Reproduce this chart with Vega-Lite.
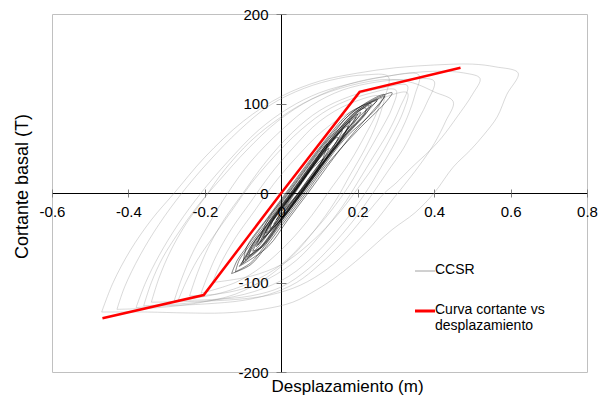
{
  "$schema": "https://vega.github.io/schema/vega-lite/v6.json",
  "width": 535,
  "height": 358,
  "autosize": {"type": "none"},
  "padding": {"left": 52, "top": 14, "right": 12, "bottom": 32},
  "config": {
    "view": {"stroke": "#c0c0c0", "strokeWidth": 1},
    "font": "Liberation Sans",
    "axis": {"grid": false}
  },
  "resolve": {"axis": {"x": "independent", "y": "independent"}},
  "layer": [
    {
      "data": {"values": [
        {"k":"L1","x":-0.47,"y":-133},{"k":"L1","x":-0.44,"y":-100},{"k":"L1","x":-0.395,"y":-64},{"k":"L1","x":-0.34,"y":-30},{"k":"L1","x":-0.28,"y":0},{"k":"L1","x":-0.2,"y":40},{"k":"L1","x":-0.1,"y":80},{"k":"L1","x":0,"y":108},{"k":"L1","x":0.1,"y":125},{"k":"L1","x":0.2,"y":134},{"k":"L1","x":0.3,"y":140},{"k":"L1","x":0.4,"y":143},{"k":"L1","x":0.5,"y":144},{"k":"L1","x":0.56,"y":141},{"k":"L1","x":0.62,"y":134},{"k":"L1","x":0.59,"y":110},{"k":"L1","x":0.565,"y":85},{"k":"L1","x":0.53,"y":65},{"k":"L1","x":0.495,"y":48},{"k":"L1","x":0.45,"y":29},{"k":"L1","x":0.4,"y":0},{"k":"L1","x":0.35,"y":-22},{"k":"L1","x":0.29,"y":-41},{"k":"L1","x":0.21,"y":-71},{"k":"L1","x":0.146,"y":-93},{"k":"L1","x":0.093,"y":-108},{"k":"L1","x":0.03,"y":-122},{"k":"L1","x":-0.05,"y":-130},{"k":"L1","x":-0.15,"y":-134},{"k":"L1","x":-0.25,"y":-134},{"k":"L1","x":-0.35,"y":-133},{"k":"L1","x":-0.47,"y":-133},
        {"k":"L2","x":-0.38,"y":-128},{"k":"L2","x":-0.355,"y":-100},{"k":"L2","x":-0.32,"y":-70},{"k":"L2","x":-0.27,"y":-35},{"k":"L2","x":-0.21,"y":0},{"k":"L2","x":-0.14,"y":35},{"k":"L2","x":-0.06,"y":70},{"k":"L2","x":0.02,"y":95},{"k":"L2","x":0.1,"y":112},{"k":"L2","x":0.2,"y":124},{"k":"L2","x":0.3,"y":132},{"k":"L2","x":0.4,"y":136},{"k":"L2","x":0.48,"y":134},{"k":"L2","x":0.52,"y":128},{"k":"L2","x":0.5,"y":110},{"k":"L2","x":0.46,"y":85},{"k":"L2","x":0.42,"y":62},{"k":"L2","x":0.39,"y":48},{"k":"L2","x":0.34,"y":28},{"k":"L2","x":0.3,"y":11},{"k":"L2","x":0.27,"y":0},{"k":"L2","x":0.22,"y":-25},{"k":"L2","x":0.16,"y":-55},{"k":"L2","x":0.1,"y":-80},{"k":"L2","x":0.04,"y":-100},{"k":"L2","x":-0.03,"y":-113},{"k":"L2","x":-0.1,"y":-120},{"k":"L2","x":-0.2,"y":-124},{"k":"L2","x":-0.3,"y":-126},{"k":"L2","x":-0.38,"y":-128},
        {"k":"L3","x":-0.34,"y":-122},{"k":"L3","x":-0.32,"y":-95},{"k":"L3","x":-0.29,"y":-65},{"k":"L3","x":-0.25,"y":-35},{"k":"L3","x":-0.2,"y":-5},{"k":"L3","x":-0.15,"y":25},{"k":"L3","x":-0.08,"y":58},{"k":"L3","x":0,"y":85},{"k":"L3","x":0.08,"y":105},{"k":"L3","x":0.18,"y":120},{"k":"L3","x":0.28,"y":127},{"k":"L3","x":0.345,"y":123},{"k":"L3","x":0.4,"y":113},{"k":"L3","x":0.45,"y":102},{"k":"L3","x":0.43,"y":80},{"k":"L3","x":0.4,"y":55},{"k":"L3","x":0.36,"y":30},{"k":"L3","x":0.32,"y":8},{"k":"L3","x":0.29,"y":-8},{"k":"L3","x":0.24,"y":-35},{"k":"L3","x":0.18,"y":-62},{"k":"L3","x":0.12,"y":-85},{"k":"L3","x":0.05,"y":-103},{"k":"L3","x":-0.03,"y":-114},{"k":"L3","x":-0.12,"y":-119},{"k":"L3","x":-0.22,"y":-121},{"k":"L3","x":-0.34,"y":-122},
        {"k":"L4","x":-0.28,"y":-120},{"k":"L4","x":-0.26,"y":-95},{"k":"L4","x":-0.23,"y":-65},{"k":"L4","x":-0.19,"y":-35},{"k":"L4","x":-0.14,"y":0},{"k":"L4","x":-0.08,"y":35},{"k":"L4","x":0,"y":70},{"k":"L4","x":0.08,"y":98},{"k":"L4","x":0.16,"y":115},{"k":"L4","x":0.25,"y":124},{"k":"L4","x":0.33,"y":127},{"k":"L4","x":0.4,"y":125},{"k":"L4","x":0.38,"y":100},{"k":"L4","x":0.35,"y":75},{"k":"L4","x":0.32,"y":50},{"k":"L4","x":0.28,"y":25},{"k":"L4","x":0.24,"y":0},{"k":"L4","x":0.19,"y":-30},{"k":"L4","x":0.13,"y":-60},{"k":"L4","x":0.07,"y":-85},{"k":"L4","x":0,"y":-105},{"k":"L4","x":-0.08,"y":-115},{"k":"L4","x":-0.18,"y":-119},{"k":"L4","x":-0.28,"y":-120},
        {"k":"L5","x":-0.24,"y":-115},{"k":"L5","x":-0.22,"y":-90},{"k":"L5","x":-0.19,"y":-60},{"k":"L5","x":-0.15,"y":-30},{"k":"L5","x":-0.1,"y":0},{"k":"L5","x":-0.04,"y":35},{"k":"L5","x":0.03,"y":68},{"k":"L5","x":0.1,"y":92},{"k":"L5","x":0.18,"y":108},{"k":"L5","x":0.26,"y":117},{"k":"L5","x":0.33,"y":120},{"k":"L5","x":0.31,"y":95},{"k":"L5","x":0.28,"y":68},{"k":"L5","x":0.24,"y":40},{"k":"L5","x":0.2,"y":12},{"k":"L5","x":0.16,"y":-15},{"k":"L5","x":0.1,"y":-48},{"k":"L5","x":0.04,"y":-75},{"k":"L5","x":-0.03,"y":-95},{"k":"L5","x":-0.1,"y":-107},{"k":"L5","x":-0.17,"y":-113},{"k":"L5","x":-0.24,"y":-115},
        {"k":"L6","x":-0.43,"y":-130},{"k":"L6","x":-0.41,"y":-105},{"k":"L6","x":-0.37,"y":-70},{"k":"L6","x":-0.32,"y":-35},{"k":"L6","x":-0.26,"y":0},{"k":"L6","x":-0.19,"y":35},{"k":"L6","x":-0.11,"y":70},{"k":"L6","x":-0.03,"y":98},{"k":"L6","x":0.06,"y":117},{"k":"L6","x":0.15,"y":128},{"k":"L6","x":0.22,"y":132},{"k":"L6","x":0.28,"y":130},{"k":"L6","x":0.27,"y":105},{"k":"L6","x":0.25,"y":78},{"k":"L6","x":0.22,"y":50},{"k":"L6","x":0.18,"y":20},{"k":"L6","x":0.14,"y":-10},{"k":"L6","x":0.09,"y":-40},{"k":"L6","x":0.03,"y":-70},{"k":"L6","x":-0.04,"y":-95},{"k":"L6","x":-0.12,"y":-113},{"k":"L6","x":-0.22,"y":-123},{"k":"L6","x":-0.32,"y":-128},{"k":"L6","x":-0.43,"y":-130},
        {"k":"M1","x":-0.27,"y":-120},{"k":"M1","x":-0.25,"y":-100},{"k":"M1","x":-0.22,"y":-75},{"k":"M1","x":-0.18,"y":-50},{"k":"M1","x":-0.13,"y":-20},{"k":"M1","x":-0.08,"y":10},{"k":"M1","x":-0.02,"y":40},{"k":"M1","x":0.05,"y":70},{"k":"M1","x":0.13,"y":95},{"k":"M1","x":0.22,"y":110},{"k":"M1","x":0.3,"y":115},{"k":"M1","x":0.29,"y":95},{"k":"M1","x":0.26,"y":70},{"k":"M1","x":0.22,"y":40},{"k":"M1","x":0.18,"y":10},{"k":"M1","x":0.13,"y":-20},{"k":"M1","x":0.07,"y":-50},{"k":"M1","x":0,"y":-80},{"k":"M1","x":-0.08,"y":-100},{"k":"M1","x":-0.17,"y":-113},{"k":"M1","x":-0.27,"y":-120},
        {"k":"M2","x":-0.21,"y":-112},{"k":"M2","x":-0.195,"y":-95},{"k":"M2","x":-0.17,"y":-70},{"k":"M2","x":-0.13,"y":-40},{"k":"M2","x":-0.08,"y":-10},{"k":"M2","x":-0.03,"y":20},{"k":"M2","x":0.03,"y":50},{"k":"M2","x":0.1,"y":80},{"k":"M2","x":0.18,"y":100},{"k":"M2","x":0.26,"y":108},{"k":"M2","x":0.25,"y":90},{"k":"M2","x":0.22,"y":65},{"k":"M2","x":0.18,"y":35},{"k":"M2","x":0.13,"y":5},{"k":"M2","x":0.08,"y":-25},{"k":"M2","x":0.02,"y":-55},{"k":"M2","x":-0.05,"y":-82},{"k":"M2","x":-0.12,"y":-100},{"k":"M2","x":-0.21,"y":-112},
        {"k":"M3","x":-0.18,"y":-100},{"k":"M3","x":-0.16,"y":-80},{"k":"M3","x":-0.12,"y":-50},{"k":"M3","x":-0.07,"y":-20},{"k":"M3","x":-0.02,"y":10},{"k":"M3","x":0.04,"y":40},{"k":"M3","x":0.11,"y":70},{"k":"M3","x":0.19,"y":93},{"k":"M3","x":0.27,"y":107},{"k":"M3","x":0.33,"y":112},{"k":"M3","x":0.32,"y":92},{"k":"M3","x":0.29,"y":65},{"k":"M3","x":0.25,"y":35},{"k":"M3","x":0.2,"y":5},{"k":"M3","x":0.14,"y":-28},{"k":"M3","x":0.07,"y":-58},{"k":"M3","x":0,"y":-80},{"k":"M3","x":-0.08,"y":-93},{"k":"M3","x":-0.18,"y":-100},
        {"k":"M4","x":-0.36,"y":-126},{"k":"M4","x":-0.34,"y":-100},{"k":"M4","x":-0.31,"y":-72},{"k":"M4","x":-0.27,"y":-45},{"k":"M4","x":-0.22,"y":-15},{"k":"M4","x":-0.16,"y":15},{"k":"M4","x":-0.09,"y":48},{"k":"M4","x":-0.01,"y":80},{"k":"M4","x":0.08,"y":105},{"k":"M4","x":0.18,"y":122},{"k":"M4","x":0.27,"y":130},{"k":"M4","x":0.36,"y":132},{"k":"M4","x":0.35,"y":110},{"k":"M4","x":0.33,"y":85},{"k":"M4","x":0.3,"y":58},{"k":"M4","x":0.26,"y":28},{"k":"M4","x":0.22,"y":0},{"k":"M4","x":0.16,"y":-35},{"k":"M4","x":0.09,"y":-68},{"k":"M4","x":0.02,"y":-93},{"k":"M4","x":-0.07,"y":-110},{"k":"M4","x":-0.18,"y":-120},{"k":"M4","x":-0.27,"y":-124},{"k":"M4","x":-0.36,"y":-126}
      ]},
      "mark": {"type": "line", "interpolate": "catmull-rom", "strokeWidth": 0.6, "opacity": 0.55},
      "encoding": {
        "x": {"field": "x", "type": "quantitative",
          "scale": {"domain": [-0.6, 0.8], "nice": false, "zero": false},
          "axis": {"orient": "bottom", "offset": -179, "values": [-0.6, -0.4, -0.2, 0, 0.2, 0.4, 0.6, 0.8],
            "labelExpr": "datum.value == 0 ? '0' : (datum.value < 0 ? '-' : '') + format(abs(datum.value), '.1f')",
            "domainColor": "#000000", "domainWidth": 1, "tickColor": "#808080", "tickSize": 4,
            "labelFontSize": 15, "labelColor": "#000000", "labelPadding": 7, "labelFlush": false, "labelOverlap": false,
            "title": "Desplazamiento (m)", "titleFontSize": 17, "titleFontWeight": "normal", "titleColor": "#000000",
            "titleX": 295, "titleY": 198, "titleBaseline": "alphabetic", "titleAnchor": null}},
        "y": {"field": "y", "type": "quantitative",
          "scale": {"domain": [-200, 200], "nice": false, "zero": false},
          "axis": {"orient": "left", "offset": -229, "values": [-200, -100, 0, 100, 200],
            "labelExpr": "(datum.value < 0 ? '-' : '') + abs(datum.value)",
            "domainColor": "#000000", "domainWidth": 1, "tickColor": "#808080", "tickSize": 5,
            "labelFontSize": 15, "labelColor": "#000000", "labelPadding": 8, "labelFlush": false, "labelOverlap": false,
            "title": "Cortante basal (T)", "titleFontSize": 18, "titleFontWeight": "normal", "titleColor": "#000000",
            "titleX": -254, "titleY": 172, "titleAngle": -90, "titleBaseline": "alphabetic", "titleAlign": "center"}},
        "detail": {"field": "k", "type": "nominal"},
        "order": {"value": null},
        "color": {"datum": "CCSR", "type": "nominal",
          "scale": {"domain": ["CCSR", "Curva cortante vs desplazamiento"], "range": ["#8a8a8a", "#ff0000"]},
          "legend": {"title": null, "orient": "none", "legendX": 366, "legendY": 250, "padding": 0,
            "symbolType": "stroke", "symbolSize": 400, "labelFontSize": 14, "labelColor": "#000000",
            "labelOffset": 3, "rowPadding": 26, "labelLimit": 300,
            "labelExpr": "datum.value == 'CCSR' ? 'CCSR' : ['Curva cortante vs', 'desplazamiento']",
            "encode": {
              "symbols": {"update": {
                "strokeWidth": {"signal": "datum.value == 'CCSR' ? 0.8 : 3"}}},
              "labels": {"update": {"baseline": {"value": "top"}, "dy": {"value": -8}}}
            }}}
      }
    },
    {
      "data": {"values": [
        {"k":"C1","x":-0.105,"y":-80},{"k":"C1","x":-0.08,"y":-60},{"k":"C1","x":-0.028,"y":-30},{"k":"C1","x":0.025,"y":0},{"k":"C1","x":0.076,"y":30},{"k":"C1","x":0.13,"y":60},{"k":"C1","x":0.193,"y":90},{"k":"C1","x":0.252,"y":105},{"k":"C1","x":0.223,"y":90},{"k":"C1","x":0.16,"y":60},{"k":"C1","x":0.106,"y":30},{"k":"C1","x":0.055,"y":0},{"k":"C1","x":0.002,"y":-30},{"k":"C1","x":-0.05,"y":-60},{"k":"C1","x":-0.105,"y":-80},
        {"k":"C2","x":-0.085,"y":-70},{"k":"C2","x":-0.077,"y":-60},{"k":"C2","x":-0.025,"y":-30},{"k":"C2","x":0.028,"y":0},{"k":"C2","x":0.079,"y":30},{"k":"C2","x":0.133,"y":60},{"k":"C2","x":0.196,"y":90},{"k":"C2","x":0.221,"y":95},{"k":"C2","x":0.22,"y":90},{"k":"C2","x":0.157,"y":60},{"k":"C2","x":0.103,"y":30},{"k":"C2","x":0.052,"y":0},{"k":"C2","x":-0.001,"y":-30},{"k":"C2","x":-0.053,"y":-60},{"k":"C2","x":-0.085,"y":-70},
        {"k":"C3","x":-0.061,"y":-58},{"k":"C3","x":-0.023,"y":-30},{"k":"C3","x":0.03,"y":0},{"k":"C3","x":0.081,"y":30},{"k":"C3","x":0.135,"y":60},{"k":"C3","x":0.196,"y":85},{"k":"C3","x":0.155,"y":60},{"k":"C3","x":0.101,"y":30},{"k":"C3","x":0.05,"y":0},{"k":"C3","x":-0.003,"y":-30},{"k":"C3","x":-0.061,"y":-58},
        {"k":"C4","x":-0.047,"y":-50},{"k":"C4","x":-0.025,"y":-30},{"k":"C4","x":0.028,"y":0},{"k":"C4","x":0.079,"y":30},{"k":"C4","x":0.133,"y":60},{"k":"C4","x":0.175,"y":75},{"k":"C4","x":0.157,"y":60},{"k":"C4","x":0.103,"y":30},{"k":"C4","x":0.052,"y":0},{"k":"C4","x":-0.001,"y":-30},{"k":"C4","x":-0.047,"y":-50},
        {"k":"C5","x":-0.03,"y":-40},{"k":"C5","x":-0.021,"y":-30},{"k":"C5","x":0.032,"y":0},{"k":"C5","x":0.083,"y":30},{"k":"C5","x":0.137,"y":60},{"k":"C5","x":0.149,"y":62},{"k":"C5","x":0.099,"y":30},{"k":"C5","x":0.048,"y":0},{"k":"C5","x":-0.005,"y":-30},{"k":"C5","x":-0.03,"y":-40},
        {"k":"C6","x":-0.12,"y":-88},{"k":"C6","x":-0.11,"y":-75},{"k":"C6","x":-0.085,"y":-60},{"k":"C6","x":-0.033,"y":-30},{"k":"C6","x":0.02,"y":0},{"k":"C6","x":0.071,"y":30},{"k":"C6","x":0.125,"y":60},{"k":"C6","x":0.185,"y":90},{"k":"C6","x":0.27,"y":110},{"k":"C6","x":0.25,"y":95},{"k":"C6","x":0.165,"y":60},{"k":"C6","x":0.111,"y":30},{"k":"C6","x":0.06,"y":0},{"k":"C6","x":0.007,"y":-30},{"k":"C6","x":-0.045,"y":-60},{"k":"C6","x":-0.08,"y":-78},{"k":"C6","x":-0.12,"y":-88},
        {"k":"C7","x":-0.013,"y":-30},{"k":"C7","x":0.034,"y":0},{"k":"C7","x":0.084,"y":30},{"k":"C7","x":0.125,"y":50},{"k":"C7","x":0.098,"y":30},{"k":"C7","x":0.046,"y":0},{"k":"C7","x":-0.013,"y":-30},
        {"k":"C8","x":0.008,"y":-18},{"k":"C8","x":0.036,"y":0},{"k":"C8","x":0.087,"y":30},{"k":"C8","x":0.11,"y":38},{"k":"C8","x":0.095,"y":30},{"k":"C8","x":0.044,"y":0},{"k":"C8","x":0.008,"y":-18},
        {"k":"C9","x":-0.075,"y":-65},{"k":"C9","x":-0.029,"y":-30},{"k":"C9","x":0.024,"y":0},{"k":"C9","x":0.075,"y":30},{"k":"C9","x":0.129,"y":60},{"k":"C9","x":0.192,"y":90},{"k":"C9","x":0.235,"y":100},{"k":"C9","x":0.224,"y":90},{"k":"C9","x":0.161,"y":60},{"k":"C9","x":0.107,"y":30},{"k":"C9","x":0.056,"y":0},{"k":"C9","x":0.003,"y":-30},{"k":"C9","x":-0.049,"y":-60},{"k":"C9","x":-0.075,"y":-65},
        {"k":"C10","x":-0.095,"y":-75},{"k":"C10","x":-0.079,"y":-60},{"k":"C10","x":-0.027,"y":-30},{"k":"C10","x":0.026,"y":0},{"k":"C10","x":0.077,"y":30},{"k":"C10","x":0.131,"y":60},{"k":"C10","x":0.208,"y":90},{"k":"C10","x":0.159,"y":60},{"k":"C10","x":0.105,"y":30},{"k":"C10","x":0.054,"y":0},{"k":"C10","x":0.001,"y":-30},{"k":"C10","x":-0.051,"y":-60},{"k":"C10","x":-0.095,"y":-75},
        {"k":"C11","x":-0.11,"y":-82},{"k":"C11","x":-0.075,"y":-60},{"k":"C11","x":-0.023,"y":-30},{"k":"C11","x":0.03,"y":0},{"k":"C11","x":0.081,"y":30},{"k":"C11","x":0.135,"y":60},{"k":"C11","x":0.198,"y":90},{"k":"C11","x":0.27,"y":108},{"k":"C11","x":0.24,"y":92},{"k":"C11","x":0.175,"y":60},{"k":"C11","x":0.121,"y":30},{"k":"C11","x":0.07,"y":0},{"k":"C11","x":0.017,"y":-30},{"k":"C11","x":-0.035,"y":-60},{"k":"C11","x":-0.11,"y":-82},
        {"k":"C12","x":-0.065,"y":-60},{"k":"C12","x":-0.035,"y":-30},{"k":"C12","x":0.018,"y":0},{"k":"C12","x":0.069,"y":30},{"k":"C12","x":0.123,"y":60},{"k":"C12","x":0.2,"y":88},{"k":"C12","x":0.16,"y":64},{"k":"C12","x":0.105,"y":32},{"k":"C12","x":0.05,"y":2},{"k":"C12","x":-0.005,"y":-28},{"k":"C12","x":-0.065,"y":-60},
        {"k":"C13","x":-0.04,"y":-45},{"k":"C13","x":-0.02,"y":-30},{"k":"C13","x":0.033,"y":0},{"k":"C13","x":0.084,"y":30},{"k":"C13","x":0.16,"y":70},{"k":"C13","x":0.108,"y":32},{"k":"C13","x":0.057,"y":2},{"k":"C13","x":0.003,"y":-28},{"k":"C13","x":-0.04,"y":-45},
        {"k":"C14","x":-0.09,"y":-72},{"k":"C14","x":-0.072,"y":-60},{"k":"C14","x":-0.02,"y":-30},{"k":"C14","x":0.033,"y":0},{"k":"C14","x":0.084,"y":30},{"k":"C14","x":0.138,"y":60},{"k":"C14","x":0.2,"y":90},{"k":"C14","x":0.23,"y":98},{"k":"C14","x":0.215,"y":88},{"k":"C14","x":0.152,"y":58},{"k":"C14","x":0.098,"y":28},{"k":"C14","x":0.047,"y":-2},{"k":"C14","x":-0.006,"y":-32},{"k":"C14","x":-0.058,"y":-62},{"k":"C14","x":-0.09,"y":-72},
        {"k":"C15","x":-0.02,"y":-35},{"k":"C15","x":0.03,"y":0},{"k":"C15","x":0.08,"y":30},{"k":"C15","x":0.12,"y":55},{"k":"C15","x":0.102,"y":32},{"k":"C15","x":0.05,"y":0},{"k":"C15","x":-0.02,"y":-35},
        {"k":"C16","x":-0.1,"y":-78},{"k":"C16","x":-0.09,"y":-60},{"k":"C16","x":-0.04,"y":-30},{"k":"C16","x":0.012,"y":0},{"k":"C16","x":0.063,"y":30},{"k":"C16","x":0.117,"y":60},{"k":"C16","x":0.18,"y":90},{"k":"C16","x":0.25,"y":103},{"k":"C16","x":0.21,"y":88},{"k":"C16","x":0.15,"y":60},{"k":"C16","x":0.096,"y":30},{"k":"C16","x":0.045,"y":0},{"k":"C16","x":-0.008,"y":-30},{"k":"C16","x":-0.06,"y":-60},{"k":"C16","x":-0.1,"y":-78},
        {"k":"C17","x":-0.055,"y":-55},{"k":"C17","x":-0.022,"y":-30},{"k":"C17","x":0.031,"y":0},{"k":"C17","x":0.082,"y":30},{"k":"C17","x":0.136,"y":60},{"k":"C17","x":0.18,"y":80},{"k":"C17","x":0.156,"y":60},{"k":"C17","x":0.102,"y":30},{"k":"C17","x":0.051,"y":0},{"k":"C17","x":-0.002,"y":-30},{"k":"C17","x":-0.055,"y":-55},
        {"k":"C18","x":-0.13,"y":-90},{"k":"C18","x":-0.115,"y":-75},{"k":"C18","x":-0.09,"y":-60},{"k":"C18","x":-0.038,"y":-30},{"k":"C18","x":0.015,"y":0},{"k":"C18","x":0.066,"y":30},{"k":"C18","x":0.12,"y":60},{"k":"C18","x":0.18,"y":88},{"k":"C18","x":0.24,"y":104},{"k":"C18","x":0.29,"y":112},{"k":"C18","x":0.27,"y":100},{"k":"C18","x":0.2,"y":70},{"k":"C18","x":0.116,"y":30},{"k":"C18","x":0.065,"y":0},{"k":"C18","x":0.012,"y":-30},{"k":"C18","x":-0.04,"y":-60},{"k":"C18","x":-0.08,"y":-80},{"k":"C18","x":-0.13,"y":-90}
      ]},
      "mark": {"type": "line", "interpolate": "catmull-rom", "strokeWidth": 0.8, "opacity": 0.6, "color": "#000000"},
      "encoding": {
        "x": {"field": "x", "type": "quantitative", "axis": null},
        "y": {"field": "y", "type": "quantitative", "axis": null},
        "detail": {"field": "k", "type": "nominal"},
        "order": {"value": null}
      }
    },
    {
      "data": {"values": [
        {"x": -0.468, "y": -140}, {"x": -0.203, "y": -114}, {"x": 0, "y": 0}, {"x": 0.205, "y": 113}, {"x": 0.469, "y": 140}
      ]},
      "mark": {"type": "line", "strokeWidth": 2.5},
      "encoding": {
        "x": {"field": "x", "type": "quantitative",
          "axis": {"orient": "top", "offset": -179, "values": [-0.6, -0.4, -0.2, 0, 0.2, 0.4, 0.6, 0.8],
            "labels": false, "domain": false, "tickColor": "#808080", "tickSize": 4, "title": null}},
        "y": {"field": "y", "type": "quantitative",
          "axis": {"orient": "right", "offset": -306, "values": [-200, -100, 0, 100, 200],
            "labels": false, "domain": false, "tickColor": "#808080", "tickSize": 5, "title": null}},
        "order": {"value": null},
        "color": {"datum": "Curva cortante vs desplazamiento", "type": "nominal",
          "legend": {"title": null, "orient": "none", "legendX": 366, "legendY": 250, "padding": 0,
            "symbolType": "stroke", "symbolSize": 400, "labelFontSize": 14, "labelColor": "#000000",
            "labelOffset": 3, "rowPadding": 26, "labelLimit": 300,
            "labelExpr": "datum.value == 'CCSR' ? 'CCSR' : ['Curva cortante vs', 'desplazamiento']",
            "encode": {
              "symbols": {"update": {
                "strokeWidth": {"signal": "datum.value == 'CCSR' ? 0.8 : 3"}}},
              "labels": {"update": {"baseline": {"value": "top"}, "dy": {"value": -8}}}
            }}}
      }
    }
  ]
}
